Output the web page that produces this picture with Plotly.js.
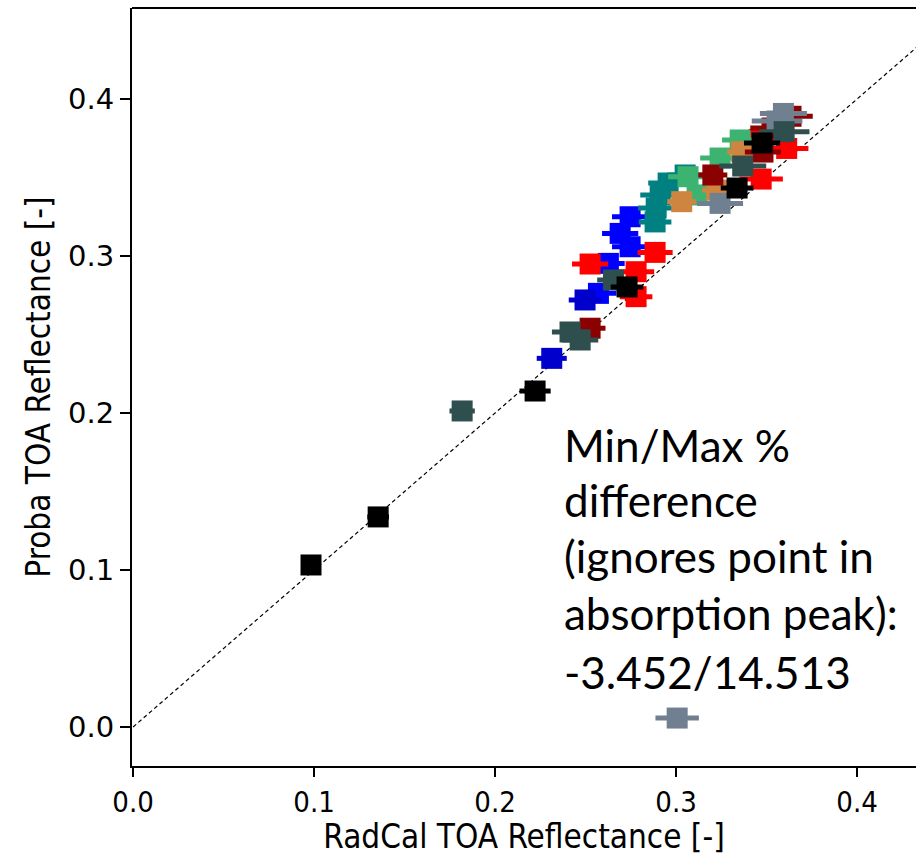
<!DOCTYPE html>
<html>
<head>
<meta charset="utf-8">
<script src="https://cdn.plot.ly/plotly-3.0.1.min.js"></script>
<style>html,body{margin:0;padding:0;background:#fff;overflow:hidden}</style>
</head>
<body>
<div id="chart" style="width:916px;height:856px"></div>
<script>
// Data (RadCal vs Proba TOA reflectance)
const blueX = [0.2746, 0.2691, 0.2746, 0.2626, 0.2571];
const blueY = [0.3250, 0.3144, 0.3059, 0.2953, 0.2762];
const blueErr = [0.010, 0.010, 0.010, 0.009, 0.010];

const mediumblueX = [0.2313, 0.2497];
const mediumblueY = [0.2348, 0.2720];
const mediumblueErr = [0.0083, 0.009];

const redX = [0.2525, 0.2884, 0.2779, 0.2779, 0.3470, 0.3611, 0.3459];
const redY = [0.2949, 0.3023, 0.2900, 0.2741, 0.3490, 0.3685, 0.3743];
const redErr = [0.010, 0.0097, 0.010, 0.009, 0.012, 0.012, 0.010];

const tealX = [0.3050, 0.2956, 0.2912, 0.2890, 0.2884];
const tealY = [0.3516, 0.3465, 0.3389, 0.3306, 0.3217];
const tealErr = [0.010, 0.011, 0.011, 0.010, 0.009];

const greenX = [0.3066, 0.3243, 0.3354, 0.3116];
const greenY = [0.3505, 0.3624, 0.3739, 0.3389];
const greenErr = [0.011, 0.011, 0.010, 0.010];

const peruX = [0.3031, 0.3224, 0.3362];
const peruY = [0.3346, 0.3420, 0.3664];
const peruErr = [0.008, 0.008, 0.008];

const darkredX = [0.2525, 0.3203, 0.3480, 0.3635, 0.3530];
const darkredY = [0.2540, 0.3516, 0.3662, 0.3890, 0.3815];
const darkredErr = [0.0085, 0.008, 0.010, 0.012, 0.012];

const slategrayX = [0.3006, 0.3593, 0.3558, 0.3243];
const slategrayY = [0.0057, 0.3908, 0.3860, 0.3335];
const slategrayErr = [0.012, 0.013, 0.014, 0.0127];

const dslateX = [0.1818, 0.2414, 0.2470, 0.2654, 0.3368, 0.3597];
const dslateY = [0.2013, 0.2516, 0.2465, 0.2847, 0.3573, 0.3792];
const dslateErr = [0.007, 0.010, 0.010, 0.009, 0.013, 0.014];

const blackX = [0.0983, 0.1354, 0.2221, 0.2729, 0.3337, 0.3475];
const blackY = [0.1032, 0.1338, 0.2140, 0.2803, 0.3433, 0.3720];
const blackErr = [0.004, 0.006, 0.0086, 0.009, 0.009, 0.010];

const oneToOne = [0, 0.5];

const tickVals = [0, 0.1, 0.2, 0.3, 0.4];
const tickText = ['0.0', '0.1', '0.2', '0.3', '0.4'];
const xTitle = 'RadCal TOA Reflectance [-]';
const yTitle = 'Proba TOA Reflectance [-]';
const noteLines = ['Min/Max %', 'difference', '(ignores point in', 'absorption peak):', '-3.452/14.513'];

const groups = [
  [blueX, blueY, blueErr, '#0000FF'],
  [mediumblueX, mediumblueY, mediumblueErr, '#0000CD'],
  [redX, redY, redErr, '#FF0000'],
  [tealX, tealY, tealErr, '#008080'],
  [greenX, greenY, greenErr, '#3CB371'],
  [peruX, peruY, peruErr, '#CD853F'],
  [darkredX, darkredY, darkredErr, '#8B0000'],
  [slategrayX, slategrayY, slategrayErr, '#708090'],
  [dslateX, dslateY, dslateErr, '#2F4F4F'],
  [blackX, blackY, blackErr, '#000000']
];

const traces = [{
  x: oneToOne, y: oneToOne, mode: 'lines', type: 'scatter',
  line: {color: '#000', width: 1.2, dash: '4px,3px'}, hoverinfo: 'skip', showlegend: false
}];
groups.forEach(g => {
  traces.push({
    x: g[0], y: g[1], type: 'scatter', mode: 'markers', showlegend: false,
    marker: {symbol: 'square', size: 21, color: g[3], line: {width: 0}},
    error_x: {type: 'data', array: g[2], visible: true, color: g[3], thickness: 5, width: 0}
  });
});

const L = 132, T = 8, B = 766, W = 916, H = 856;
const annotations = [];
const lineCenters = [445, 500, 556, 613, 672];
noteLines.forEach((t, i) => {
  annotations.push({
    xref: 'paper', yref: 'paper', x: (562 - L) / (W - L), y: (B - lineCenters[i]) / (B - T),
    xanchor: 'left', yanchor: 'middle', showarrow: false, align: 'left',
    text: t, font: {family: 'Lato, "Open Sans", sans-serif', size: 44, color: '#000'}
  });
});

const layout = {
  width: W, height: H,
  margin: {l: L, r: 0, t: T, b: H - B, pad: 0},
  paper_bgcolor: '#fff', plot_bgcolor: '#fff',
  showlegend: false,
  font: {family: '"DejaVu Sans", sans-serif', color: '#000'},
  xaxis: {
    range: [-0.0006, -0.0006 + (W - L) / 1810],
    tickvals: tickVals, ticktext: tickText,
    ticks: 'outside', ticklen: 9, tickwidth: 1.5, tickcolor: '#000',
    showline: true, linecolor: '#000', linewidth: 2, mirror: false,
    showgrid: false, zeroline: false,
    tickfont: {size: 29, family: '"DejaVu Sans Condensed", "DejaVu Sans", sans-serif'},
    title: {text: xTitle, font: {size: 33, family: '"DejaVu Sans Condensed", "DejaVu Sans", sans-serif'}, standoff: 6}
  },
  yaxis: {
    range: [-(B - 727) / 1570, (727 - T) / 1570],
    tickvals: tickVals, ticktext: tickText,
    ticks: 'outside', ticklen: 10, tickwidth: 1.5, tickcolor: '#000',
    showline: true, linecolor: '#000', linewidth: 2, mirror: false,
    showgrid: false, zeroline: false,
    tickfont: {size: 29, family: '"DejaVu Sans", sans-serif'},
    title: {text: yTitle, font: {size: 33, family: '"DejaVu Sans Condensed", "DejaVu Sans", sans-serif'}, standoff: 8}
  },
  shapes: [{type: 'line', xref: 'paper', yref: 'paper', x0: 0, x1: 1, y0: 1, y1: 1, line: {color: '#000', width: 2}}],
  annotations: annotations
};

Plotly.newPlot('chart', traces, layout, {displayModeBar: false, staticPlot: true});
</script>
</body>
</html>
